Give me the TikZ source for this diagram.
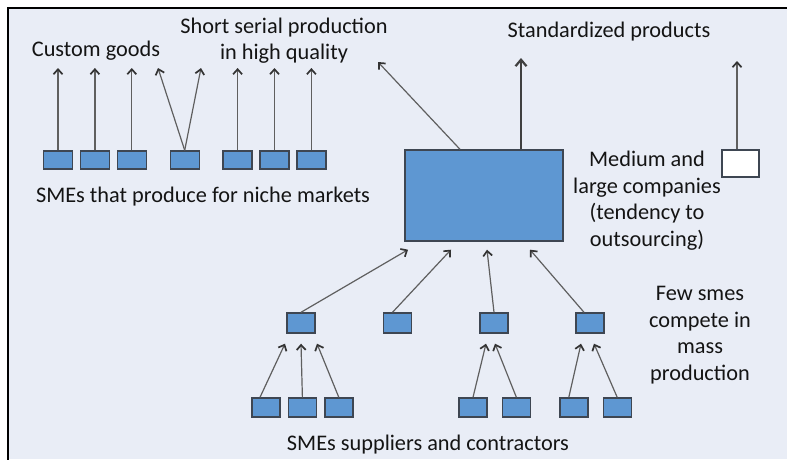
\documentclass[tikz,border=0pt]{standalone}
\usepackage{fontspec}
\setmainfont{Carlito}
\usepackage{tikz}
\usetikzlibrary{positioning,arrows.meta}
\definecolor{panel}{RGB}{233,237,246}
\definecolor{boxblue}{RGB}{94,151,210}
\definecolor{boxline}{RGB}{62,70,82}
\definecolor{arrgray}{RGB}{95,95,95}

\begin{document}
\begin{tikzpicture}[x=1pt, y=-1pt,
  node distance=6.5pt,
  sme/.style={draw=boxline, line width=1.4pt, fill=boxblue, minimum width=29pt, minimum height=18pt, inner sep=0pt},
  lbl/.style={font=\fontsize{22.3}{26.5}\selectfont, align=center, inner sep=0pt, anchor=base, text=black!92},
  arr/.style={-{Straight Barb[length=5pt,width=9pt,line width=1.7pt,color=black!80]}, line width=1.2pt, draw=arrgray},
  bigarr/.style={-{Straight Barb[length=6.5pt,width=11pt,line width=2.2pt]}, line width=2pt, draw=black!75}]
\useasboundingbox[fill=white] (0,0) rectangle (787,459);
\fill[panel] (8,8) rectangle (787,459);
\draw[line width=2pt, line cap=rect] (8,459) -- (8,8) -- (787,8);

\node[sme] (niche1) at (58,160) {};
\node[sme, right=of niche1] (niche2) {};
\node[sme, right=of niche2] (niche3) {};
\node[sme, right=22.5pt of niche3] (niche4) {};
\node[sme, right=22.5pt of niche4] (niche5) {};
\node[sme, right=of niche5] (niche6) {};
\node[sme, right=of niche6] (niche7) {};

\node[sme, minimum width=158pt, minimum height=91pt] (large) at (484,195.5) {};
\node[sme, fill=white, minimum width=37pt, minimum height=27pt] (single) at (740.5,163.5) {};

\node[sme, minimum width=28pt, minimum height=20pt] (tier1) at (301,323) {};
\node[sme, minimum width=28pt, minimum height=20pt] (tier2) at (397.5,323) {};
\node[sme, minimum width=28pt, minimum height=20pt] (tier3) at (494,323) {};
\node[sme, minimum width=28pt, minimum height=20pt] (tier4) at (590,323) {};

\node[sme, minimum width=28pt, minimum height=19pt] (sup1) at (266,407.5) {};
\node[sme, minimum width=28pt, minimum height=19pt, right=7pt of sup1] (sup2) {};
\node[sme, minimum width=28pt, minimum height=19pt, right=7pt of sup2] (sup3) {};
\node[sme, minimum width=28pt, minimum height=19pt] (sup4) at (473,407.5) {};
\node[sme, minimum width=28pt, minimum height=19pt, right=14pt of sup4] (sup5) {};
\node[sme, minimum width=28pt, minimum height=19pt, right=28pt of sup5] (sup6) {};
\node[sme, minimum width=28pt, minimum height=19pt, right=14pt of sup6] (sup7) {};

\node[lbl] (custom) at (96,56) {Custom goods};
\node[lbl] (short) at (284,33) {Short serial production};
\node[lbl] (quality) at (284,59) {in high quality};
\node[lbl] (std) at (609,37) {Standardized products};
\node[lbl] (niche) at (203,202) {SMEs that produce for niche markets};
\node[lbl] (medium) at (647,246) {Medium and\\large companies\\(tendency to\\outsourcing)};
\node[lbl] (few) at (700,380) {Few smes\\compete in\\mass\\production};
\node[lbl] (suppliers) at (428,450) {SMEs suppliers and contractors};

\coordinate (top) at (0,68);
\coordinate (vleft) at (158,68);
\coordinate (vright) at (201,68);
\coordinate (serial) at (378,62);
\coordinate (mass) at (521,58);
\coordinate (alone) at (737,61);

\foreach \n in {1,2,3,5,6,7}
  \draw[arr] (niche\n.north) -- (niche\n.north |- top);
\draw[arr] (niche4.north) -- (vleft);
\draw[arr] (niche4.north) -- (vright);
\draw[arr] ([xshift=-24pt]large.north) -- (serial);
\draw[bigarr] (large.north -| mass) -- (mass);
\draw[arr] (single.north -| alone) -- (alone);

\draw[arr] (tier1.north) -- ([xshift=-76pt,yshift=-8pt]large.south);
\draw[arr] ([xshift=-5pt]tier2.north) -- ([xshift=-33pt,yshift=-8pt]large.south);
\draw[arr] (tier3.north) -- ([xshift=3pt,yshift=-8pt]large.south);
\draw[arr] ([xshift=-6pt]tier4.north) -- ([xshift=46pt,yshift=-8pt]large.south);

\draw[arr] ([xshift=-6pt]sup1.north) -- ([xshift=-16pt,yshift=-10pt]tier1.south);
\draw[arr] (sup2.north) -- ([yshift=-10pt]tier1.south);
\draw[arr] (sup3.north) -- ([xshift=16pt,yshift=-10pt]tier1.south);
\draw[arr] (sup4.north) -- ([xshift=-8pt,yshift=-10pt]tier3.south);
\draw[arr] (sup5.north) -- ([xshift=1pt,yshift=-10pt]tier3.south);
\draw[arr] ([xshift=-5pt]sup6.north) -- ([xshift=-9pt,yshift=-10pt]tier4.south);
\draw[arr] (sup7.north) -- ([xshift=4pt,yshift=-10pt]tier4.south);
\end{tikzpicture}
\end{document}
